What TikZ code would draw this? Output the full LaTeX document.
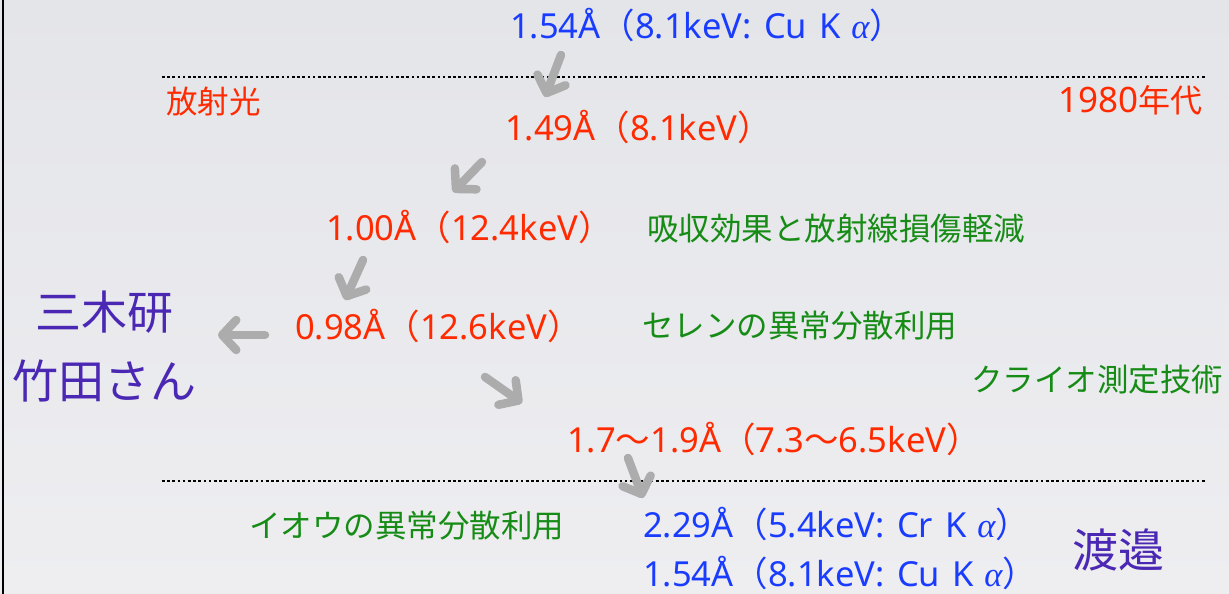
\documentclass[tikz,border=0pt]{standalone}
\usepackage{fontspec}
\setmainfont{Noto Sans}
\newfontfamily\cjk{Noto Sans CJK JP}
\newfontfamily\grk{Liberation Serif}
\usetikzlibrary{arrows.meta}
\definecolor{bgtop}{RGB}{228,229,233}
\definecolor{bgbot}{RGB}{238,238,241}
\definecolor{tblue}{RGB}{25,60,255}
\definecolor{tred}{RGB}{255,42,0}
\definecolor{tgreen}{RGB}{22,140,22}
\definecolor{tpurple}{RGB}{75,40,180}
\definecolor{agray}{RGB}{172,172,172}
\newcommand{\fl}{{\cjk （}}
\newcommand{\fr}{{\cjk ）}}
\newcommand{\wv}{{\cjk 〜}}
\newcommand{\alp}{{\grk\itshape α}}
\newcommand{\wsp}{\hspace{0.36em}}
\tikzset{
  lat/.style={inner sep=0pt, anchor=base west, font=\fontsize{34.5}{40}\selectfont},
  cj/.style={inner sep=0pt, anchor=base west, font=\fontsize{31.5}{36}\selectfont\cjk},
  bluetxt/.style={lat, text=tblue},
  redtxt/.style={lat, text=tred},
  greentxt/.style={cj, text=tgreen},
  bigtxt/.style={inner sep=0pt, anchor=base, text=tpurple, font=\fontsize{46}{52}\selectfont\cjk},
  garrow/.style={draw=agray, line width=8.5pt, line cap=round,
    -{Straight Barb[length=14pt,width=30pt,round]}},
  dotline/.style={draw=black, line width=2.4pt, dash pattern=on 2.6pt off 2.6pt}
}
\begin{document}
\begin{tikzpicture}[x=1pt,y=-1pt]
\useasboundingbox (0,0) rectangle (1229,594);
\shade[top color=bgtop, bottom color=bgbot] (0,0) rectangle (1229,594);
\draw[line width=2pt] (3,0) -- (3,594);
% dotted separators
\coordinate (d1a) at (162,77); \coordinate (d1b) at (1207,77);
\coordinate (d2a) at (162,481); \coordinate (d2b) at (1207,481);
\draw[dotline] (d1a) -- (d1b);
\draw[dotline] (d2a) -- (d2b);
% texts
\node[bluetxt] (n1) at (510,39) {1.54Å\fl 8.1keV:\wsp Cu\wsp K\hspace{0.3em}\alp\fr};
\node[cj, text=tred] (hsr) at (166,113) {放射光};
\node[redtxt, anchor=base east, font=\fontsize{35}{40}\selectfont] (y80) at (1203,112) {1980{\fontsize{32}{36}\selectfont\cjk 年代}};
\node[redtxt] (n2) at (505,140) {1.49Å\fl 8.1keV\fr};
\node[redtxt] (n3) at (326,240) {1.00Å\fl 12.4keV\fr};
\node[greentxt] (g1) at (647,240) {吸収効果と放射線損傷軽減};
\node[redtxt] (n4) at (295,339) {0.98Å\fl 12.6keV\fr};
\node[greentxt] (g2) at (642,337) {セレンの異常分散利用};
\node[greentxt] (g3) at (971,391) {クライオ測定技術};
\node[redtxt] (n5) at (567,452) {1.7\wv 1.9Å\fl 7.3\wv 6.5keV\fr};
\node[greentxt] (g4) at (249,537) {イオウの異常分散利用};
\node[bluetxt] (n6) at (643,537) {2.29Å\fl 5.4keV:\wsp Cr\wsp K\hspace{0.3em}\alp\fr};
\node[bluetxt] (n7) at (643,586) {1.54Å\fl 8.1keV:\wsp Cu\wsp K\hspace{0.3em}\alp\fr};
\node[bigtxt] (miki) at (104.5,329.5) {三木研};
\node[bigtxt] (take) at (104.5,398.5) {竹田さん};
\node[bigtxt] (wata) at (1118,567.5) {渡邉};
% arrows
\coordinate (a1s) at (561,55);  \coordinate (a1t) at (545,97);
\coordinate (a2s) at (482,162); \coordinate (a2t) at (453,192);
\coordinate (a3s) at (363,260); \coordinate (a3t) at (345,300);
\coordinate (a4s) at (265,335); \coordinate (a4t) at (218,335);
\coordinate (a5s) at (485,377); \coordinate (a5t) at (522,403);
\coordinate (a6s) at (628,458); \coordinate (a6t) at (643,498);
\foreach \i in {1,...,6} { \draw[garrow] (a\i s) -- (a\i t); }
\end{tikzpicture}
\end{document}
